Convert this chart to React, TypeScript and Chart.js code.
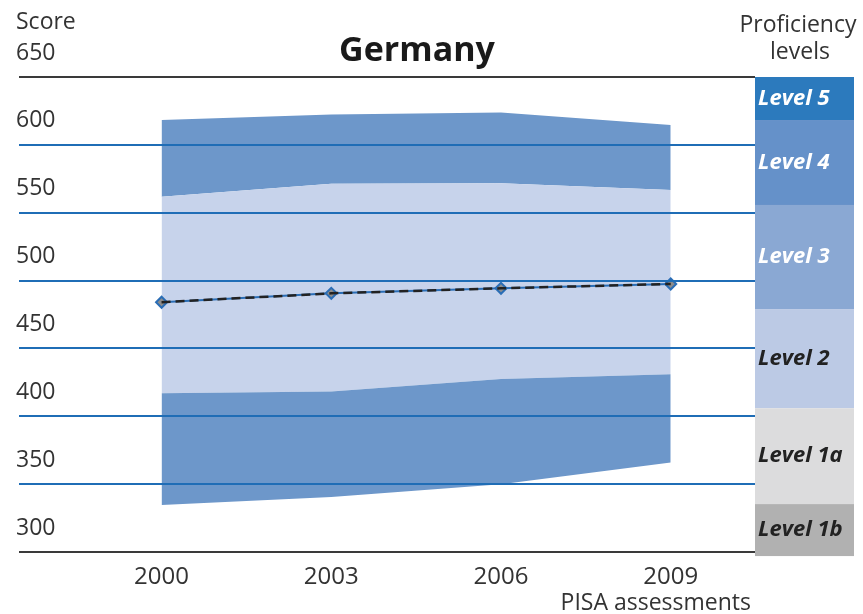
import React, { useEffect, useRef } from "react";
import { Chart, registerables } from "chart.js";

Chart.register(...registerables);

// ---- Data ----
const years = [2000, 2003, 2006, 2009];
const meanScore = [484, 490.6, 494.3, 497.5];
const p5 = [334.6, 340.5, 350, 365.9];
const p25 = [416.9, 418.3, 427.5, 430.9];
const p75 = [561.8, 571.3, 571.8, 566.7];
const p95 = [618.3, 622.3, 623.8, 614.6];
const yTicks = [300, 350, 400, 450, 500, 550, 600, 650];

const levelNames = ["Level 5", "Level 4", "Level 3", "Level 2", "Level 1a", "Level 1b"];
const levelTops = [650, 618.3, 555.7, 479, 405.9, 335.3];
const levelBottoms = [618.3, 555.7, 479, 405.9, 335.3, 297];
const levelColors = ["#2c7abd", "#6591c9", "#8aa8d3", "#bccae5", "#dcdcdd", "#b1b1b1"];
const levelTextColors = ["#ffffff", "#ffffff", "#ffffff", "#222222", "#222222", "#222222"];

const DARK_BAND = "#6d97ca";
const LIGHT_BAND = "#c7d3eb";
const FONT = "'Open Sans', 'DejaVu Sans', sans-serif";

const decorPlugin = {
  id: "decor",
  afterDraw(chart: any) {
    const ctx = chart.ctx;
    const y = chart.scales.y;
    const area = chart.chartArea;
    ctx.save();
    // Proficiency level column
    const colLeft = area.right;
    const colRight = 854;
    for (let i = 0; i < levelNames.length; i++) {
      const top = y.getPixelForValue(levelTops[i]);
      const bottom = y.getPixelForValue(levelBottoms[i]);
      ctx.fillStyle = levelColors[i];
      ctx.fillRect(colLeft, top, colRight - colLeft, bottom - top);
      ctx.fillStyle = levelTextColors[i];
      ctx.font = `italic bold 22px ${FONT}`;
      ctx.textAlign = "left";
      ctx.textBaseline = "middle";
      ctx.fillText(levelNames[i], colLeft + 3, (top + bottom) / 2);
    }
    // Texts
    ctx.fillStyle = "#333333";
    ctx.font = `23px ${FONT}`;
    ctx.textBaseline = "middle";
    ctx.textAlign = "left";
    ctx.fillText("Score", 16, 22);
    ctx.textAlign = "center";
    ctx.fillText("Proficiency", 798, 25);
    ctx.fillText("levels", 800, 52);
    ctx.textAlign = "right";
    ctx.fillText("PISA assessments", 751, 603);
    ctx.fillStyle = "#1a1a1a";
    ctx.font = `bold 34px ${FONT}`;
    ctx.textAlign = "center";
    ctx.textBaseline = "alphabetic";
    ctx.fillText("Germany", 417, 61);
    ctx.restore();
  },
};

export default function App() {
  const ref = useRef<HTMLCanvasElement | null>(null);
  useEffect(() => {
    if (!ref.current) return;
    const toPts = (arr: number[]) => arr.map((v, i) => ({ x: years[i], y: v }));
    const bandBase = {
      borderWidth: 0,
      borderColor: "rgba(0,0,0,0)",
      pointRadius: 0,
      tension: 0,
    };
    const chart = new Chart(ref.current, {
      type: "line",
      data: {
        datasets: [
          {
            data: toPts(meanScore),
            borderColor: "#222222",
            borderWidth: 2.5,
            borderDash: [9, 5],
            pointRadius: 0,
            fill: false,
            tension: 0,
          },
          {
            data: toPts(meanScore),
            borderColor: "#2a6db5",
            borderWidth: 2,
            pointStyle: "rectRot",
            pointRadius: 5.5,
            pointBorderWidth: 2,
            pointBorderColor: "#2a6db5",
            pointBackgroundColor: "#8c8c8c",
            fill: false,
            tension: 0,
          },
          { ...bandBase, data: toPts(p5), fill: false },
          { ...bandBase, data: toPts(p25), fill: "-1", backgroundColor: DARK_BAND },
          { ...bandBase, data: toPts(p75), fill: "-1", backgroundColor: LIGHT_BAND },
          { ...bandBase, data: toPts(p95), fill: "-1", backgroundColor: DARK_BAND },
        ] as any,
      },
      options: {
        animation: false,
        responsive: false,
        layout: { padding: { left: 19, right: 108, top: 77, bottom: 0 } },
        plugins: {
          legend: { display: false },
          title: { display: false },
          tooltip: { enabled: false },
        },
        scales: {
          x: {
            type: "linear",
            min: 1997.48,
            max: 2010.49,
            afterBuildTicks: (s: any) => {
              s.ticks = years.map((v) => ({ value: v }));
            },
            afterFit: (s: any) => {
              s.height = 62;
            },
            grid: { display: false, drawTicks: false },
            border: { display: false },
            ticks: {
              callback: (v: any) => String(v),
              color: "#333333",
              font: { size: 24, family: FONT },
              padding: 11,
              maxRotation: 0,
              autoSkip: false,
            },
          },
          y: {
            type: "linear",
            min: 300,
            max: 650,
            afterBuildTicks: (s: any) => {
              s.ticks = yTicks.map((v) => ({ value: v }));
            },
            afterFit: (s: any) => {
              s.width = 0;
            },
            grid: {
              z: 1,
              drawTicks: false,
              lineWidth: 2,
              color: (c: any) =>
                c.tick && (c.tick.value === 650 || c.tick.value === 300) ? "#3a3a3a" : "#1f6db6",
            },
            border: { display: false },
            ticks: {
              mirror: true,
              padding: -3,
              labelOffset: -24,
              color: "#333333",
              font: { size: 23, family: FONT },
              callback: (v: any) => String(v),
            },
          },
        },
      },
      plugins: [decorPlugin],
    });
    return () => chart.destroy();
  }, []);
  return (
    <div style={{ position: "absolute", left: 0, top: 0, width: 863, height: 614, background: "#fff" }}>
      <canvas ref={ref} width={863} height={614} style={{ width: 863, height: 614, display: "block" }} />
    </div>
  );
}
